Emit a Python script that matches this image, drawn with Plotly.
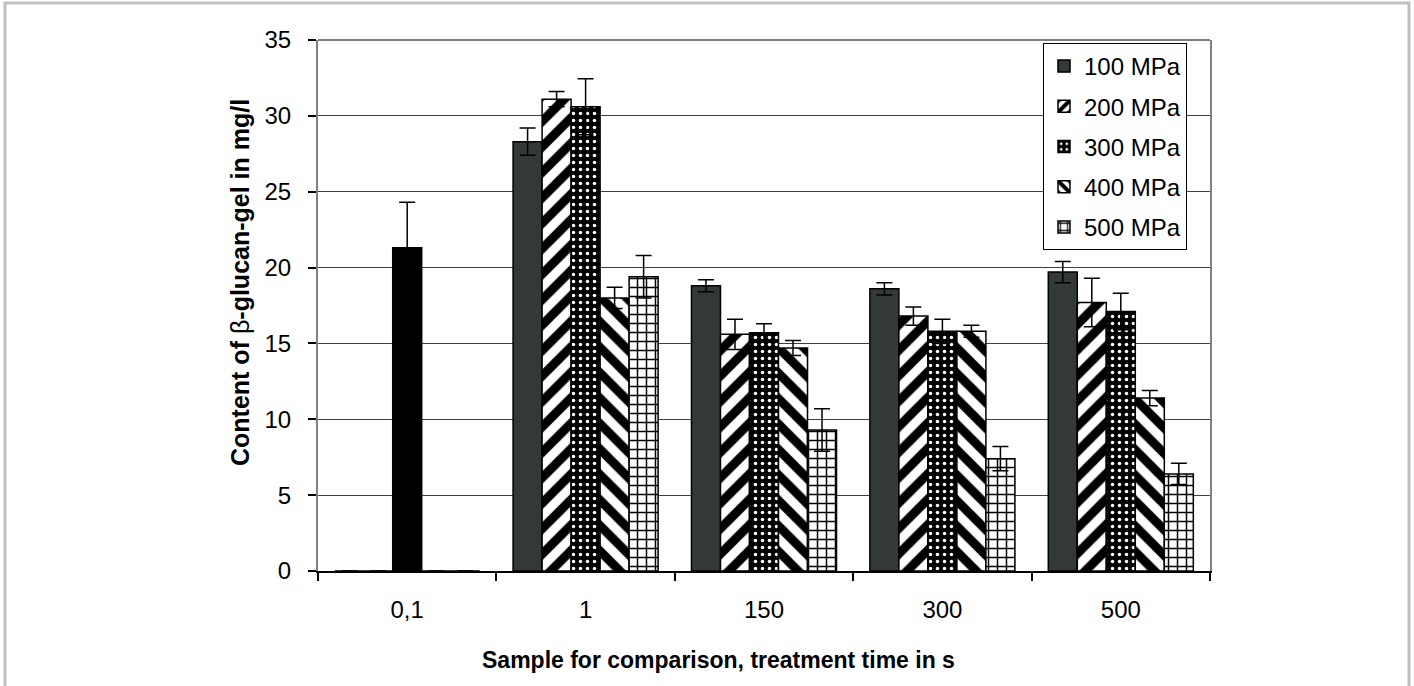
import plotly.graph_objects as go

categories = ["0,1", "1", "150", "300", "500"]
series_names = ["100 MPa", "200 MPa", "300 MPa", "400 MPa", "500 MPa"]

v100 = [0, 28.3, 18.8, 18.6, 19.7]
v200 = [0, 31.1, 15.6, 16.8, 17.7]
v300 = [None, 30.6, 15.7, 15.8, 17.1]
v400 = [0, 18.0, 14.7, 15.8, 11.4]
v500 = [0, 19.4, 9.3, 7.4, 6.4]

e100 = [0, 0.9, 0.4, 0.4, 0.7]
e200 = [0, 0.5, 1.0, 0.6, 1.6]
e300 = [0, 1.85, 0.6, 0.8, 1.2]
e400 = [0, 0.7, 0.5, 0.4, 0.5]
e500 = [0, 1.4, 1.4, 0.8, 0.7]

comparison_values = [21.3, None, None, None, None]
comparison_errors = [3.0, 0, 0, 0, 0]

values = [v100, v200, v300, v400, v500]
errors = [e100, e200, e300, e400, e500]

FONT = "Liberation Sans, Arial, sans-serif"

styles = [
    dict(color="#333838", pattern=dict(shape="")),
    dict(color="white", pattern=dict(shape="/", fgcolor="black", bgcolor="white", size=18, solidity=0.5, fgopacity=1)),
    dict(color="black", pattern=dict(shape=".", fgcolor="white", bgcolor="black", size=7, solidity=0.2, fgopacity=1)),
    dict(color="white", pattern=dict(shape="\\", fgcolor="black", bgcolor="white", size=18, solidity=0.5, fgopacity=1)),
    dict(color="white", pattern=dict(shape="+", fgcolor="black", bgcolor="white", size=9, solidity=0.3, fgopacity=1)),
]

fig = go.Figure()
for i, (name, vals, errs, st) in enumerate(zip(series_names, values, errors, styles)):
    fig.add_trace(go.Bar(
        x=categories, y=vals, name=name,
        offsetgroup=str(i), legendgroup=str(i),
        marker=dict(color=st["color"], pattern=st["pattern"],
                    line=dict(color="black", width=1.5)),
        error_y=dict(type="data", array=errs, visible=True, color="black",
                     thickness=1.5, width=8),
    ))

fig.add_trace(go.Bar(
    x=categories, y=comparison_values, name="Sample for comparison",
    offsetgroup="2", showlegend=False,
    marker=dict(color="black", line=dict(color="black", width=1.5)),
    error_y=dict(type="data", array=comparison_errors, visible=True, color="black",
                 thickness=1.5, width=8),
))

L, R, T, B = 318, 1210, 40, 571
W, H = 1414, 686

def px_x(p):
    return (p - L) / (R - L)

def px_y(p):
    return (B - p) / (B - T)

fig.update_layout(
    width=W, height=H,
    margin=dict(l=L, r=W - R, t=T, b=H - B),
    paper_bgcolor="white", plot_bgcolor="white",
    barmode="group", bargap=0.187, bargroupgap=0,
    font=dict(family=FONT, size=24, color="black"),
    showlegend=True,
    legend=dict(
        x=px_x(1043), y=px_y(43), xanchor="left", yanchor="top",
        bgcolor="white", bordercolor="black", borderwidth=1,
        font=dict(family=FONT, size=24, color="black"),
        traceorder="grouped", tracegroupgap=6,
        itemwidth=30,
    ),
    xaxis=dict(
        type="category", tickson="boundaries",
        ticks="outside", ticklen=8, tickcolor="black", tickwidth=1.5,
        showline=True, linecolor="black", linewidth=1.5, mirror=False,
        showgrid=False, ticklabelstandoff=16,
        tickfont=dict(family=FONT, size=24, color="black"),
    ),
    yaxis=dict(
        range=[0, 35], dtick=5, tick0=0,
        ticks="outside", ticklen=8, tickcolor="black", tickwidth=1.5,
        showline=True, linecolor="#808080", linewidth=2, mirror=True,
        showgrid=True, gridcolor="#404040", gridwidth=1,
        zeroline=False, ticklabelstandoff=12,
        tickfont=dict(family=FONT, size=24, color="black"),
    ),
    annotations=[
        dict(text="<b>Content of </b>β<b>-glucan-gel in mg/l</b>",
             x=px_x(240), y=px_y(283), xref="paper", yref="paper",
             textangle=-90, showarrow=False, xanchor="center", yanchor="middle",
             font=dict(family=FONT, size=25, color="black")),
        dict(text="<b>Sample for comparison, treatment time in s</b>",
             x=px_x(718), y=px_y(660), xref="paper", yref="paper",
             showarrow=False, xanchor="center", yanchor="middle",
             font=dict(family=FONT, size=23, color="black")),
    ],
    shapes=[
        dict(type="line", xref="paper", yref="paper", x0=0, x1=1, y0=1, y1=1,
             line=dict(color="#808080", width=2)),
        dict(type="rect", xref="paper", yref="paper",
             x0=px_x(5), x1=px_x(1409), y0=px_y(3), y1=px_y(700),
             line=dict(color="#c0c0c0", width=3), layer="below"),
    ],
)

fig.write_html("out.html")
